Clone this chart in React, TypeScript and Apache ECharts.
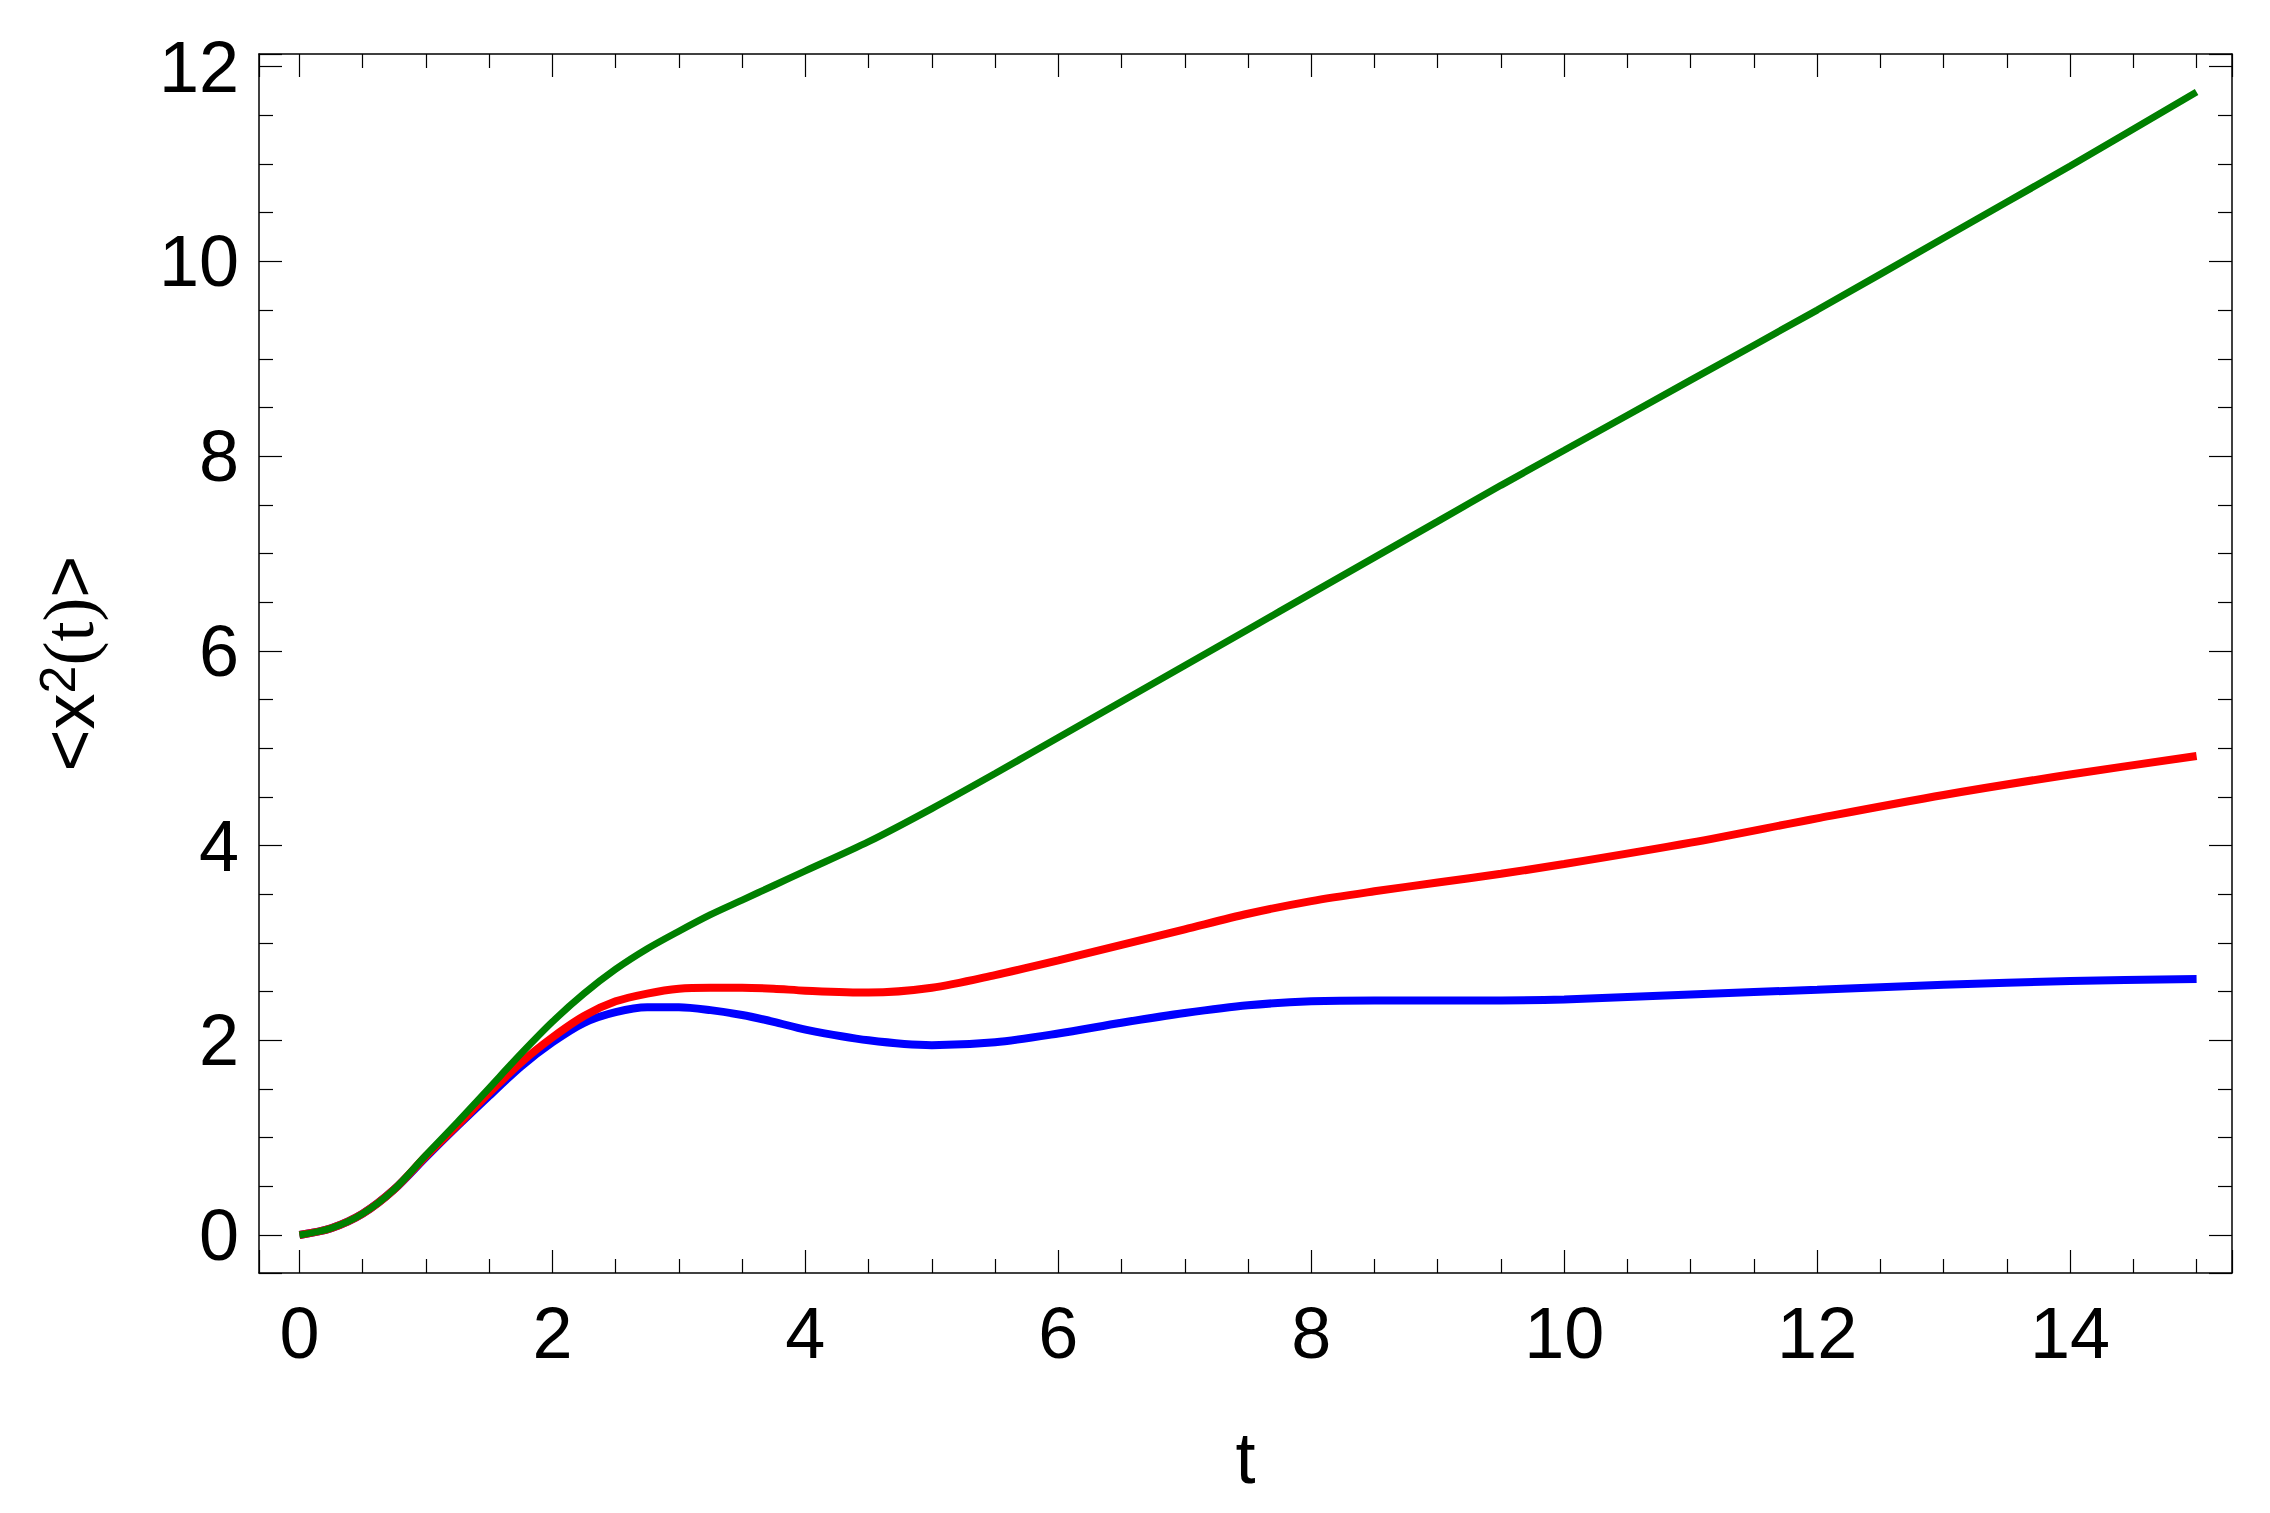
import React, { useRef, useEffect } from 'react';
import * as echarts from 'echarts';

// sample times t
const tValues = [
  0, 0.25, 0.5, 0.75, 1, 1.25, 1.5, 1.75, 2, 2.25, 2.5, 2.75, 3, 3.25, 3.5, 3.75, 4, 4.5, 5,
  5.5, 6, 6.5, 7, 7.5, 8, 8.5, 9, 9.5, 10, 11, 12, 13, 14, 15,
];

// <x^2(t)> for the three curves
const blueValues = [
  0, 0.07, 0.22, 0.47, 0.8, 1.12, 1.43, 1.73, 1.98, 2.18, 2.29, 2.34, 2.34, 2.31, 2.26, 2.19,
  2.11, 2.0, 1.95, 1.98, 2.07, 2.18, 2.28, 2.36, 2.4, 2.41, 2.41, 2.41, 2.42, 2.47, 2.52, 2.57,
  2.61, 2.63,
];
const redValues = [
  0, 0.07, 0.22, 0.47, 0.81, 1.13, 1.46, 1.77, 2.03, 2.25, 2.4, 2.48, 2.53, 2.54, 2.54, 2.53,
  2.51, 2.49, 2.54, 2.67, 2.82, 2.98, 3.14, 3.3, 3.43, 3.53, 3.62, 3.71, 3.81, 4.03, 4.28, 4.52,
  4.73, 4.92,
];
const greenValues = [
  0, 0.07, 0.22, 0.47, 0.82, 1.16, 1.51, 1.86, 2.19, 2.48, 2.73, 2.94, 3.12, 3.29, 3.44, 3.59,
  3.74, 4.04, 4.38, 4.74, 5.11, 5.48, 5.85, 6.22, 6.59, 6.96, 7.33, 7.7, 8.06, 8.78, 9.5, 10.24,
  10.98, 11.74,
];

const xTickLabels = [0, 2, 4, 6, 8, 10, 12, 14];
const yTickLabels = [0, 2, 4, 6, 8, 10, 12];

const FONT = 'Liberation Sans';

const App: React.FC = () => {
  const chartRef = useRef<HTMLDivElement>(null);

  useEffect(() => {
    if (!chartRef.current) return;
    const chart = echarts.init(chartRef.current, null, { renderer: 'svg' });

    const pairs = (vals: number[]) => tValues.map((t, i) => [t, vals[i]]);
    const fmt = (labels: number[]) => (v: number) =>
      labels.some((l) => Math.abs(l - v) < 1e-6) ? String(Math.round(v)) : '';

    const axisCommon = {
      type: 'value' as const,
      splitLine: { show: false },
      axisLine: { show: true, onZero: false, lineStyle: { color: '#000', width: 1.5 } },
      axisTick: { show: true, inside: true, length: 23, lineStyle: { color: '#000', width: 1.2 } },
      minorTick: { show: true, splitNumber: 4, length: 14, lineStyle: { color: '#000', width: 1.2 } },
      minInterval: 2,
      maxInterval: 2,
    };
    const xRange = { min: -0.32, max: 15.28, splitNumber: 8 };
    const yRange = { min: -0.39, max: 12.13, splitNumber: 6 };
    const mainText = { fontSize: 72, lineHeight: 72, fontFamily: FONT, color: '#000', verticalAlign: 'bottom' };
    const lineCommon = { type: 'line', smooth: 0.3, showSymbol: false };

    chart.setOption({
      animation: false,
      backgroundColor: '#fff',
      grid: { left: 259, right: 38, top: 54, bottom: 240, containLabel: false },
      xAxis: [
        {
          ...axisCommon,
          ...xRange,
          position: 'bottom',
          name: 't',
          nameLocation: 'middle',
          nameGap: 149,
          nameTextStyle: { fontSize: 72, fontFamily: FONT, color: '#000' },
          axisLabel: {
            margin: 24,
            fontSize: 72,
            fontFamily: FONT,
            color: '#000',
            formatter: fmt(xTickLabels),
          },
        },
        {
          ...axisCommon,
          ...xRange,
          position: 'top',
          axisLabel: { show: false },
        },
      ],
      yAxis: [
        {
          ...axisCommon,
          ...yRange,
          position: 'left',
          name: '{m|<x}{sup|2}{s|(t)}{m|>}',
          nameLocation: 'middle',
          nameRotate: 90,
          nameGap: 154,
          nameTextStyle: {
            rich: {
              m: { ...mainText },
              s: { ...mainText, fontFamily: 'Liberation Serif' },
              sup: {
                fontSize: 50,
                lineHeight: 50,
                fontFamily: FONT,
                color: '#000',
                verticalAlign: 'top',
                padding: [0, 0, 52, 0],
              },
            },
          },
          axisLabel: {
            margin: 20,
            fontSize: 72,
            fontFamily: FONT,
            color: '#000',
            formatter: fmt(yTickLabels),
          },
        },
        {
          ...axisCommon,
          ...yRange,
          position: 'right',
          axisLabel: { show: false },
        },
      ],
      series: [
        { ...lineCommon, name: 'blue', data: pairs(blueValues), lineStyle: { color: '#0000ff', width: 8 } },
        { ...lineCommon, name: 'red', data: pairs(redValues), lineStyle: { color: '#ff0000', width: 8 } },
        { ...lineCommon, name: 'green', data: pairs(greenValues), lineStyle: { color: '#008000', width: 7 } },
      ],
    });

    return () => {
      chart.dispose();
    };
  }, []);

  return (
    <div
      ref={chartRef}
      style={{ position: 'fixed', left: 0, top: 0, width: 2270, height: 1513, background: '#fff' }}
    />
  );
};

export default App;
